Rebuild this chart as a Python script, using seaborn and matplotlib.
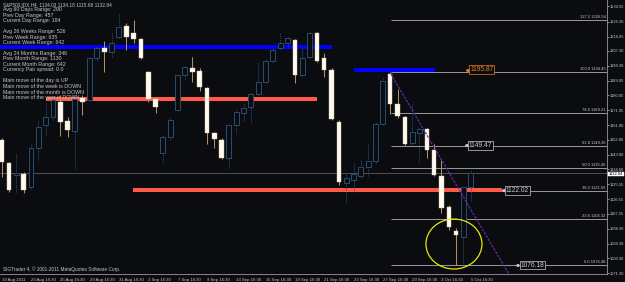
import matplotlib
matplotlib.use("Agg")
import matplotlib.pyplot as plt
from matplotlib.patches import Ellipse
import matplotlib.transforms as mtrans
import numpy as np
import seaborn as sns

# ---------------- data ----------------
bar_index = list(range(65))
opens = [1152.77, 1138.68, 1131.34, 1131.95, 1123.99, 1147.87, 1161.95, 1166.85, 1176.04, 1164.40,
         1158.28, 1178.49, 1177.26, 1202.98, 1209.11, 1206.66, 1215.84, 1222.58, 1218.29, 1214.62,
         1194.41, 1177.88, 1144.81, 1154.61, 1171.14, 1192.57, 1196.86, 1195.02, 1184.61, 1157.05,
         1152.77, 1141.75, 1161.95, 1169.30, 1172.98, 1180.94, 1188.29, 1201.15, 1209.11, 1212.17,
         1214.01, 1192.57, 1203.59, 1218.29, 1202.98, 1195.63, 1163.79, 1126.44, 1128.27, 1130.72,
         1136.23, 1139.91, 1162.57, 1193.18, 1174.81, 1166.85, 1150.93, 1157.05, 1159.50, 1146.64,
         1130.72, 1111.74, 1097.04, 1093.37, 1123.99]
highs = [1153.99, 1139.30, 1144.81, 1133.17, 1150.93, 1165.02, 1175.43, 1180.32, 1180.32, 1166.85,
         1179.10, 1180.32, 1203.59, 1209.72, 1213.39, 1218.29, 1229.93, 1224.42, 1226.25, 1215.23,
         1195.02, 1179.10, 1155.83, 1166.24, 1193.07, 1197.97, 1203.59, 1196.86, 1185.11, 1157.67,
         1153.99, 1162.45, 1172.36, 1175.43, 1182.16, 1200.53, 1202.98, 1209.11, 1218.29, 1215.84,
         1214.51, 1209.11, 1218.90, 1218.79, 1206.04, 1196.86, 1165.02, 1133.17, 1139.30, 1141.13,
         1150.32, 1163.79, 1191.35, 1194.45, 1184.00, 1167.35, 1174.81, 1160.12, 1160.12, 1150.32,
         1140.52, 1112.96, 1098.88, 1124.49, 1134.18]
lows = [1130.11, 1120.93, 1120.93, 1120.31, 1122.76, 1140.52, 1155.83, 1165.02, 1155.22, 1154.61,
        1135.62, 1168.08, 1176.65, 1201.76, 1194.41, 1203.59, 1215.23, 1207.88, 1212.17, 1202.37,
        1176.04, 1169.30, 1139.30, 1152.77, 1170.53, 1190.12, 1188.29, 1182.77, 1150.32, 1147.87,
        1141.13, 1135.62, 1157.05, 1164.40, 1163.18, 1180.32, 1187.79, 1200.53, 1208.49, 1209.11,
        1187.67, 1192.07, 1203.09, 1200.53, 1191.35, 1165.02, 1125.21, 1114.19, 1120.93, 1129.50,
        1130.72, 1138.68, 1162.07, 1168.69, 1166.24, 1149.71, 1149.71, 1139.30, 1141.75, 1130.72,
        1108.07, 1097.65, 1076.48, 1077.45, 1115.68]
closes = [1139.30, 1122.15, 1132.56, 1122.15, 1147.87, 1160.73, 1166.85, 1177.26, 1163.79, 1158.89,
          1177.88, 1176.04, 1202.98, 1209.11, 1206.66, 1212.17, 1221.97, 1215.84, 1214.62, 1202.98,
          1177.88, 1172.98, 1154.61, 1165.02, 1192.57, 1197.47, 1194.41, 1185.22, 1157.05, 1153.38,
          1141.75, 1161.95, 1169.91, 1172.36, 1180.94, 1188.29, 1201.15, 1207.88, 1212.17, 1215.23,
          1192.57, 1202.98, 1218.29, 1201.15, 1195.63, 1165.63, 1127.05, 1129.50, 1131.95, 1136.23,
          1139.91, 1162.57, 1188.90, 1174.81, 1167.46, 1150.32, 1157.67, 1159.50, 1146.64, 1131.34,
          1111.13, 1099.49, 1094.59, 1123.99, 1132.84]

x_tick_index = list(range(0, 65, 4))
x_tick_labels = ["19 Aug 2011", "23 Aug 16:30", "25 Aug 16:30", "29 Aug 16:30", "31 Aug 16:30",
                 "2 Sep 16:30", "7 Sep 16:30", "9 Sep 16:30", "13 Sep 16:30", "15 Sep 16:30",
                 "19 Sep 16:30", "21 Sep 16:30", "23 Sep 16:30", "27 Sep 16:30", "29 Sep 16:30",
                 "3 Oct 16:30", "5 Oct 16:30"]
y_ticks = [1234.55, 1225.30, 1216.05, 1207.30, 1198.30, 1189.05, 1180.05, 1171.05, 1161.80,
           1152.80, 1143.80, 1134.80, 1125.55, 1116.55, 1107.55, 1098.30, 1089.30, 1080.30, 1071.30]

fib_levels = [127.2, 100.0, 78.6, 61.8, 50.0, 38.2, 23.6, 0.0]
fib_prices = [1226.54, 1194.45, 1169.21, 1149.36, 1135.46, 1121.55, 1104.32, 1076.48]
fib_start = 53.1

blue_levels = [1209.72, 1195.87]
blue_start = [-0.5, 48.1]
blue_end = [45.1, 59.1]
red_levels = [1178.18, 1122.02]
red_start = [6.0, 17.9]
red_end = [43.0, 68.3]

tag_values = [1195.87, 1149.47, 1122.02, 1076.18]
tag_x = [63.9, 63.75, 68.8, 70.8]
tag_colors = ["#f07a20", "#c8c8c8", "#c8c8c8", "#c8c8c8"]

bid_price = 1132.84
trend_x = [53.1, 71.0]
trend_y = [1193.18, 1056.96]
circle_center = (61.7, 1089.08)
circle_size = (7.64, 30.6)

info_lines = ["S&P500,IDX,H4  1134.03 1134.18 1115.68 1132.84",
              "Avg 60 Days Range: 290", "Prev Day Range: 457", "Current Day Range: 184",
              "Avg 26 Weeks Range: 526", "Prev Week Range: 635", "Current Week Range: 642",
              "Avg 24 Months Range: 346", "Prev Month Range: 1130", "Current Month Range: 642",
              "Currency Pair spread: 0.0",
              "Main move of the day is UP", "Main move of the week is DOWN",
              "Main move of the month is DOWN", "Main move of the year is DOWN"]
info_rows_px = [4.7, 10, 15.3, 20.7, 31.3, 37.3, 42.7, 53.3, 58.7, 64.3, 70, 80.7, 86, 92, 98]

# ---------------- style ----------------
BG = "#0a0c10"
FG = "#c8c8c8"
sns.set_style("dark", {"axes.facecolor": BG, "figure.facecolor": BG})
plt.rcParams["font.family"] = ["Liberation Sans", "DejaVu Sans"]

W, H = 625, 282
fig = plt.figure(figsize=(W / 100, H / 100), dpi=100, facecolor=BG)
ax = fig.add_axes([0, 8 / H, 607 / W, 274 / H])
ax.set_facecolor(BG)
ax.set_xlim(-0.23, 82.58)
ax.set_ylim(1070.72, 1238.5)

# bid line
ax.axhline(bid_price, color="#5c5c5c", lw=0.6, zorder=1)

# fibonacci levels
for lvl, p in zip(fib_levels, fib_prices):
    ax.hlines(p, fib_start, 82.58, color="#9a9a9a", lw=0.7, zorder=1)
    ax.text(82.4, p + 0.5, f"{lvl:.1f} {p:.2f}", color=FG, fontsize=3.0,
            ha="right", va="bottom", zorder=5)

# thick horizontal lines
for p, s, e in zip(blue_levels, blue_start, blue_end):
    ax.hlines(p, s, e, color="#0000ff", lw=2.9, zorder=1.5, capstyle="butt")
for p, s, e in zip(red_levels, red_start, red_end):
    ax.hlines(p, s, e, color="#ff5a46", lw=2.9, zorder=1.5, capstyle="butt")

# candles
o = np.array(opens); c = np.array(closes); hi = np.array(highs); lo = np.array(lows)
xs = np.array(bar_index)
bull = c >= o
ax.vlines(xs[~bull], lo[~bull], hi[~bull], color="#b09060", lw=0.75, zorder=2)
ax.vlines(xs[bull], lo[bull], hi[bull], color="#2b4c6f", lw=0.75, zorder=2,
          linestyles=(0, (1, 1)))
bottoms = np.minimum(o, c)
heights = np.maximum(np.abs(c - o), 0.6)
ax.bar(xs[~bull], heights[~bull], bottom=bottoms[~bull], width=0.62,
       color="#fffaf0", edgecolor="#d8c8a8", linewidth=0.3, zorder=3)
ax.bar(xs[bull], heights[bull], bottom=bottoms[bull], width=0.68,
       color=BG, edgecolor="#2b4c6f", linewidth=0.7, zorder=3)

# trend line
sns.lineplot(x=trend_x, y=trend_y, ax=ax, color="#6a2aa8", lw=0.9, zorder=4,
             dashes=False)
ax.lines[-1].set_linestyle((0, (2, 1)))

# yellow circle
ax.add_patch(Ellipse(circle_center, circle_size[0], circle_size[1], fill=False,
                     edgecolor="#e8e800", lw=0.9, zorder=4))

# price tags
for v, x0, col in zip(tag_values, tag_x, tag_colors):
    ax.text(x0, v, f"{v:.2f}", color=col, fontsize=4.8, ha="left", va="center",
            zorder=6, bbox=dict(boxstyle="square,pad=0.12", fc=BG, ec=col, lw=0.5))
    ax.plot([x0 - 0.45], [v], marker="<", ms=1.6, color=col, zorder=6, lw=0)

# info text
for txt, ypx in zip(info_lines, info_rows_px):
    ax.text(3 / 607, 1 - ypx / 274, txt, transform=ax.transAxes, color=FG,
            fontsize=3.8 if ypx > 5 else 3.4, ha="left", va="center", zorder=7)
ax.text(3 / 607, 1 - 269 / 274, "SIGTrader 4, \u00a9 2001-2011 MetaQuotes Software Corp.",
        transform=ax.transAxes, color=FG, fontsize=3.4, ha="left", va="center", zorder=7)

# axes
for side in ["top", "left"]:
    ax.spines[side].set_visible(False)
for side in ["right", "bottom"]:
    ax.spines[side].set_visible(True)
    ax.spines[side].set_color("#9a9a9a")
    ax.spines[side].set_linewidth(0.6)
ax.grid(False)
ax.yaxis.tick_right()
ax.set_yticks(y_ticks)
ax.set_yticklabels([f"{t:.2f}" for t in y_ticks])
ax.set_xticks(x_tick_index)
ax.set_xticklabels(x_tick_labels)
for lab in ax.get_xticklabels():
    lab.set_ha("left")
ax.tick_params(axis="y", colors=FG, labelsize=2.9, length=1.5, width=0.5, pad=0.8,
               direction="out", right=True, left=False)
ax.tick_params(axis="x", colors=FG, labelsize=3.1, length=2, width=0.5, pad=0.8,
               direction="out")
ax.set_xlabel(""); ax.set_ylabel("")

# current price highlight on axis (drawn slightly left so it stays within the image)
trans = mtrans.blended_transform_factory(ax.transAxes, ax.transData)
ax.text(1.003, bid_price - 0.9, f"{bid_price:.2f}", transform=trans, color="black",
        fontsize=2.9, ha="left", va="center", zorder=8, clip_on=False,
        bbox=dict(boxstyle="square,pad=0.08", fc="white", ec="white", lw=0.3))

fig.savefig("out.png", dpi=100, facecolor=BG)
